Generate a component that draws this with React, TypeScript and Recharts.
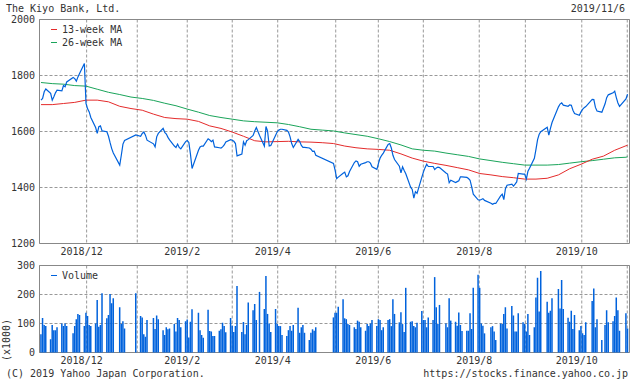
import { Bar, CartesianGrid, ComposedChart, Line, ReferenceArea, XAxis, YAxis } from "recharts";

const FONT = '"DejaVu Sans Mono", "Liberation Mono", monospace';
const TEXT = "#333";
const FRAME = "#888";
const GRID = "#999";
const BLUE = "#0062dc";
const RED = "#e42b2b";
const GREEN = "#1aa45a";

// daily closes, one per trading day, 2018/11/6 .. 2019/11/6
const closes = [
  // 2018/11
  1712, 1718, 1742, 1752, 1736, 1712, 1724, 1738, 1748, 1745, 1764, 1760, 1777, 1793, 1789, 1780, 1795, 1807,
  // 2018/12
  1843, 1700, 1681, 1670, 1650, 1614, 1593, 1617, 1620, 1602, 1599, 1583, 1560, 1539, 1523, 1480, 1516, 1555, 1568,
  // 2019/1
  1588, 1583, 1593, 1598, 1587, 1569, 1556, 1545, 1581, 1593, 1611, 1597, 1591, 1579, 1570, 1548, 1543, 1555, 1543,
  // 2019/2
  1538, 1564, 1568, 1561, 1519, 1468, 1533, 1545, 1548, 1548, 1574, 1570, 1564, 1569, 1545, 1542, 1541, 1545, 1552,
  // 2019/3
  1563, 1571, 1569, 1565, 1557, 1513, 1519, 1563, 1551, 1567, 1571, 1586, 1602, 1614, 1586, 1548, 1618, 1601, 1548, 1550,
  // 2019/4
  1587, 1599, 1605, 1608, 1608, 1604, 1598, 1581, 1557, 1543, 1572, 1564, 1550, 1543, 1543, 1541, 1537, 1529, 1530, 1515,
  // 2019/5
  1486, 1462, 1432, 1437, 1451, 1455, 1438, 1442, 1457, 1489, 1495, 1492, 1476, 1483, 1489, 1492, 1492, 1487, 1474,
  // 2019/6
  1465, 1486, 1505, 1515, 1523, 1554, 1557, 1541, 1515, 1500, 1476, 1452, 1474, 1461, 1449, 1401, 1393, 1362, 1385, 1379,
  // 2019/7
  1437, 1456, 1471, 1483, 1475, 1475, 1464, 1470, 1473, 1471, 1452, 1448, 1417, 1426, 1418, 1421, 1424, 1438, 1438, 1436, 1432, 1426,
  // 2019/8
  1402, 1376, 1356, 1355, 1357, 1360, 1354, 1344, 1340, 1343, 1343, 1370, 1376, 1357, 1396, 1408, 1412, 1405, 1412, 1420, 1450,
  // 2019/9
  1448, 1448, 1430, 1458, 1469, 1504, 1536, 1571, 1590, 1599, 1615, 1587, 1611, 1632, 1688, 1698, 1702, 1694, 1690,
  // 2019/10
  1695, 1694, 1676, 1664, 1658, 1670, 1679, 1685, 1689, 1715, 1714, 1686, 1673, 1669, 1699, 1721, 1731, 1738, 1744, 1721, 1702,
  // 2019/11
  1690, 1716, 1733,
];

// volume in thousands, same trading days
const volumes = [
  63, 119, 95, 91, 46, 95, 77, 77, 87, 100, 91, 100, 91, 66, 91, 115, 133, 129,
  91, 137, 126, 95, 91, 100, 181, 89, 95, 204, 118, 129, 202, 170, 187, 156, 98, 108, 83,
  204, 126, 121, 63, 54, 112, 119, 81, 128, 115, 77, 60, 87, 80, 83, 98, 72, 119, 112,
  87, 108, 114, 52, 106, 149, 137, 77, 60, 51, 147, 74, 72, 57, 57, 75, 80, 103, 91,
  70, 119, 92, 71, 91, 229, 71, 105, 63, 95, 172, 146, 167, 112, 209, 150, 264, 133, 100, 71,
  150, 98, 91, 91, 60, 57, 77, 91, 75, 95, 154, 68, 87, 95, 68, 43, 68, 80, 75, 87,
  121, 137, 137, 158, 184, 118, 115, 98, 95, 87, 81, 110, 106, 87, 75, 98, 91, 100, 112,
  91, 115, 112, 77, 87, 112, 115, 91, 184, 133, 104, 139, 98, 71, 223, 106, 108, 91, 87, 103,
  143, 112, 112, 87, 121, 112, 260, 156, 98, 164, 100, 87, 187, 110, 106, 92, 138, 95, 74, 75, 75, 135,
  81, 223, 268, 223, 100, 92, 66, 87, 91, 72, 43, 100, 98, 133, 156, 83, 160, 128, 72, 72, 135,
  104, 98, 72, 133, 60, 87, 190, 258, 141, 281, 175, 137, 144, 187, 219, 152, 250, 150, 120,
  106, 144, 81, 129, 77, 91, 66, 60, 104, 178, 221, 87, 115, 43, 95, 146, 104, 108, 126, 190, 146,
  75, 135, 83,
];

// moving averages, sampled weekly (every 7th day from 2018/11/6, last point 2019/11/6)
const ma13 = [
  1696, 1696, 1700, 1704, 1712, 1712, 1706, 1690, 1682, 1676, 1662, 1650, 1646, 1644, 1636, 1620, 1611, 1598,
  1583, 1567, 1563, 1564, 1565, 1563, 1562, 1560, 1557, 1548, 1542, 1538, 1536, 1533, 1520, 1505, 1494, 1486,
  1479, 1471, 1463, 1450, 1445, 1439, 1435, 1430, 1430, 1433, 1445, 1467, 1483, 1501, 1512, 1533, 1549, 1551,
];
const ma26 = [
  1775, 1771, 1769, 1764, 1762, 1751, 1740, 1732, 1723, 1718, 1711, 1701, 1692, 1680, 1669, 1657, 1650, 1644,
  1638, 1635, 1633, 1631, 1625, 1617, 1608, 1605, 1602, 1595, 1589, 1583, 1574, 1564, 1552, 1538, 1533, 1530,
  1523, 1517, 1511, 1502, 1496, 1490, 1485, 1480, 1480, 1480, 1482, 1487, 1492, 1496, 1501, 1506, 1508, 1510,
];

// market closed on these weekdays
const holidays = [
  "2018-11-23", "2018-12-24", "2018-12-31", "2019-01-01", "2019-01-02", "2019-01-03", "2019-01-14",
  "2019-02-11", "2019-03-21", "2019-04-29", "2019-04-30", "2019-05-01", "2019-05-02", "2019-05-03",
  "2019-05-06", "2019-07-15", "2019-08-12", "2019-09-16", "2019-09-23", "2019-10-14", "2019-10-22",
  "2019-11-04",
];

// grid lines (days from 2018/11/6) and their labels
const monthTicks = [28.4, 59.9, 91, 119, 147.3, 183.4, 209.9, 237.9, 272.7, 301.4, 336.5, 364.8];
const monthLabels = ["2018/12", "", "2019/2", "", "2019/4", "", "2019/6", "", "2019/8", "", "2019/10", ""];
const priceTicks = [1200, 1400, 1600, 1800, 2000];
const volumeTicks = [0, 100, 200, 300];

const DAY = 86400000;
const START = Date.UTC(2018, 10, 6);
const END = Date.UTC(2019, 10, 6);
const X_DOMAIN: [number, number] = [-0.93, 366.2];

const days: number[] = [];
for (let t = START; t <= END; t += DAY) {
  const dt = new Date(t);
  const wd = dt.getUTCDay();
  if (wd === 0 || wd === 6) continue;
  if (holidays.includes(dt.toISOString().slice(0, 10))) continue;
  days.push((t - START) / DAY);
}

const dailyRows = days.map((d, i) => ({ d, close: closes[i], volume: volumes[i] }));
const maRows = ma13.map((v, i) => ({ d: Math.min(i * 7, 365), ma13: v, ma26: ma26[i] }));

const MonthTick = (props: any) => {
  const { x, y, payload } = props;
  const label = monthLabels[monthTicks.indexOf(payload.value)];
  if (!label) return <g />;
  return (
    <text x={x - 5} y={y} dy="0.71em" textAnchor="middle" fontSize={10} fontFamily={FONT} fill={TEXT}>
      {label}
    </text>
  );
};

const tickStyle = { fontSize: 10, fontFamily: FONT, fill: TEXT };

const LegendRow = ({ color, label }: { color: string; label: string }) => (
  <div style={{ display: "flex", alignItems: "center", height: 13, lineHeight: "13px" }}>
    <span style={{ display: "inline-block", width: 6, height: 1, background: color, marginRight: 5 }} />
    <span>{label}</span>
  </div>
);

export default function App() {
  return (
    <div
      style={{
        position: "relative",
        width: 630,
        height: 382,
        background: "#fff",
        fontFamily: FONT,
        fontSize: 10,
        color: TEXT,
        overflow: "hidden",
      }}
    >
      <style>{"body{margin:0}"}</style>
      <div style={{ position: "absolute", left: 6, top: 3, lineHeight: "12px" }}>The Kiyo Bank, Ltd.</div>
      <div style={{ position: "absolute", right: 5, top: 3, lineHeight: "12px" }}>2019/11/6</div>

      <div style={{ position: "absolute", left: 0, top: 0 }}>
        <ComposedChart width={630} height={264} data={dailyRows} margin={{ top: 19.5, right: 0.5, bottom: 0.5, left: 0 }}>
          <CartesianGrid stroke={GRID} strokeDasharray="3 2" />
          <XAxis
            dataKey="d"
            type="number"
            domain={X_DOMAIN}
            allowDataOverflow
            ticks={monthTicks}
            interval={0}
            tickLine={false}
            axisLine={false}
            tickSize={0}
            tickMargin={4.5}
            height={20}
            tick={(p: any) => <MonthTick {...p} />}
          />
          <YAxis
            type="number"
            domain={[1200, 2000]}
            ticks={priceTicks}
            interval={0}
            width={39.5}
            tickLine={false}
            axisLine={false}
            tickSize={0}
            tickMargin={4.5}
            tick={tickStyle}
          />
          <Line data={maRows} dataKey="ma26" type="linear" stroke={GREEN} strokeWidth={1} dot={false} isAnimationActive={false} />
          <Line data={maRows} dataKey="ma13" type="linear" stroke={RED} strokeWidth={1} dot={false} isAnimationActive={false} />
          <Line dataKey="close" type="linear" stroke={BLUE} strokeWidth={1.2} dot={false} isAnimationActive={false} />
          <ReferenceArea x1={X_DOMAIN[0]} x2={X_DOMAIN[1]} y1={1200} y2={2000} fill="none" stroke={FRAME} ifOverflow="visible" />
        </ComposedChart>
      </div>

      <div style={{ position: "absolute", left: 51, top: 23 }}>
        <LegendRow color={RED} label="13-week MA" />
        <LegendRow color={GREEN} label="26-week MA" />
      </div>

      <div style={{ position: "absolute", left: 0, top: 240 }}>
        <ComposedChart width={630} height={142} data={dailyRows} margin={{ top: 25.5, right: 0.5, bottom: 9.5, left: 0 }}>
          <CartesianGrid stroke={GRID} strokeDasharray="3 2" />
          <XAxis
            dataKey="d"
            type="number"
            domain={X_DOMAIN}
            allowDataOverflow
            ticks={monthTicks}
            interval={0}
            tickLine={false}
            axisLine={false}
            tickSize={0}
            tickMargin={4.5}
            height={20}
            tick={(p: any) => <MonthTick {...p} />}
          />
          <YAxis
            type="number"
            domain={[0, 300]}
            ticks={volumeTicks}
            interval={0}
            width={39.5}
            tickLine={false}
            axisLine={false}
            tickSize={0}
            tickMargin={4.5}
            tick={tickStyle}
          />
          <Bar dataKey="volume" fill={BLUE} barSize={1.5} isAnimationActive={false} />
          <ReferenceArea x1={X_DOMAIN[0]} x2={X_DOMAIN[1]} y1={0} y2={300} fill="none" stroke={FRAME} ifOverflow="visible" />
        </ComposedChart>
      </div>

      <div style={{ position: "absolute", left: 51, top: 268.7 }}>
        <LegendRow color={BLUE} label="Volume" />
      </div>

      <div
        style={{
          position: "absolute",
          left: 7 - 24,
          top: 340 - 6,
          width: 48,
          height: 12,
          lineHeight: "12px",
          textAlign: "center",
          transform: "rotate(-90deg)",
        }}
      >
        (x1000)
      </div>

      <div style={{ position: "absolute", left: 6, top: 368, lineHeight: "12px" }}>(C) 2019 Yahoo Japan Corporation.</div>
      <div style={{ position: "absolute", right: 2, top: 368, lineHeight: "12px" }}>https://stocks.finance.yahoo.co.jp</div>
    </div>
  );
}
